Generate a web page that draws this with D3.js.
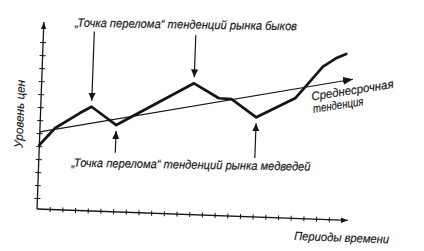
<!DOCTYPE html>
<html>
<head>
<meta charset="utf-8">
<script src="https://cdn.jsdelivr.net/npm/d3@7"></script>
<style>
  html, body { margin: 0; padding: 0; background: #fff; }
  svg { display: block; }
  text { font-family: "Liberation Sans", Arial, sans-serif; font-style: italic; fill: #151515; }
</style>
</head>
<body>
<svg id="chart" width="424" height="251"></svg>
<script>
// price path (period, price level)
const periods = [0, 1.2, 3.1, 4, 6, 7, 12, 14, 15, 17, 20, 20.9, 22.1, 23.1, 23.9];
const prices  = [5.08, 6.43, 7.65, 8.17, 6.83, 7.41, 10.26, 9.18, 9.15, 7.82, 9.39, 10.45, 11.9, 12.58, 12.94];

// medium-term trend (straight arrow)
const trendPeriods = [0, 24.5];
const trendPrices  = [6.09, 11.02];

const xTickValues = [1, 2, 3, 4, 5, 6, 7, 8, 9, 10, 11, 12, 13, 14, 15, 16, 17, 18, 19, 20, 21, 22, 23, 24];
const yTickValues = [1, 2, 3, 4, 5, 6, 7, 8, 9, 10, 11, 12, 13];

// which points of the series the call-outs point at
const bullTurnIdx = [3, 6];
const bearTurnIdx = [4, 9];

const bullLabel  = '„Точка перелома“ тенденций рынка быков';
const bearLabel  = '„Точка перелома“ тенденций рынка медведей';
const trendLabel = ['Среднесрочная', 'тенденция'];
const xLabel = 'Периоды времени';
const yLabel = 'Уровень цен';

const INK = '#151515';
const svg = d3.select('#chart');

const x = d3.scaleLinear().domain([0, 24.5]).range([0, 311]);
const y = d3.scaleLinear().domain([0, 14]).range([2, -180]);
const xMax = 24.5, yMax = 14.55;

const defs = svg.append('defs');
const addHead = (id, len, half) => defs.append('marker')
  .attr('id', id)
  .attr('markerUnits', 'userSpaceOnUse')
  .attr('viewBox', `0 ${-half} ${len} ${half * 2}`)
  .attr('refX', len).attr('refY', 0)
  .attr('markerWidth', len).attr('markerHeight', half * 2)
  .attr('orient', 'auto')
  .append('path').attr('d', `M0,${-half}L${len},0L0,${half}Z`).attr('fill', INK);
addHead('axis-head', 7, 2.6);
addHead('call-head', 8, 3.6);
addHead('trend-head', 10, 4);

// the scan is slightly tilted, so the plot sits in a rotated frame
const g = svg.append('g').attr('transform', 'translate(37,209) rotate(2.1)');

// axes
g.append('line')
  .attr('x1', 0).attr('y1', 0).attr('x2', x(xMax)).attr('y2', 0)
  .attr('stroke', INK).attr('stroke-width', 1.3)
  .attr('marker-end', 'url(#axis-head)');
g.append('line')
  .attr('x1', 0).attr('y1', 0).attr('x2', 0).attr('y2', y(yMax))
  .attr('stroke', INK).attr('stroke-width', 1.3)
  .attr('marker-end', 'url(#axis-head)');

const xAxis = g.append('g')
  .call(d3.axisBottom(x).tickValues(xTickValues).tickSize(3).tickFormat(''));
xAxis.select('.domain').remove();
xAxis.selectAll('.tick line').attr('y1', -2.5).attr('y2', 2.5).attr('stroke', INK);

const yAxis = g.append('g')
  .call(d3.axisLeft(y).tickValues(yTickValues).tickSize(3).tickFormat(''));
yAxis.select('.domain').remove();
yAxis.selectAll('.tick line').attr('x1', 3).attr('x2', -3).attr('stroke', INK);

// trend
const trendLine = d3.line().x((d, i) => x(trendPeriods[i])).y((d, i) => y(trendPrices[i]));
g.append('path')
  .attr('d', trendLine(trendPeriods))
  .attr('fill', 'none').attr('stroke', INK).attr('stroke-width', 1.2)
  .attr('marker-end', 'url(#trend-head)');

// price
const priceLine = d3.line().x((d, i) => x(periods[i])).y((d, i) => y(prices[i]));
g.append('path')
  .attr('d', priceLine(periods))
  .attr('fill', 'none').attr('stroke', INK).attr('stroke-width', 2.7)
  .attr('stroke-linejoin', 'round').attr('stroke-linecap', 'round');

// call-out arrows
const gap = 6;
g.append('g').selectAll('line').data(bullTurnIdx).join('line')
  .attr('x1', i => x(periods[i])).attr('x2', i => x(periods[i]))
  .attr('y1', -179.5).attr('y2', i => y(prices[i]) - gap)
  .attr('stroke', INK).attr('stroke-width', 1.2)
  .attr('marker-end', 'url(#call-head)');
g.append('g').selectAll('line').data(bearTurnIdx).join('line')
  .attr('x1', i => x(periods[i])).attr('x2', i => x(periods[i]))
  .attr('y1', -59).attr('y2', i => y(prices[i]) + gap)
  .attr('stroke', INK).attr('stroke-width', 1.2)
  .attr('marker-end', 'url(#call-head)');

// texts, squeezed to the widths of the scanned lettering
const label = (tf, str, len) => svg.append('text')
  .attr('transform', tf)
  .attr('font-size', 12)
  .attr('textLength', len).attr('lengthAdjust', 'spacingAndGlyphs')
  .attr('stroke', INK).attr('stroke-width', 0.15)
  .text(str);
label('translate(75,26.7) rotate(0.9)', bullLabel, 222);
label('translate(71.5,166.7) rotate(0.95)', bearLabel, 239);
label('translate(312,100.5) rotate(-8.8)', trendLabel[0], 83);
label('translate(313.5,113) rotate(-8.8)', trendLabel[1], 51);
label('translate(294,240) rotate(2)', xLabel, 95);
label('translate(22.5,148) rotate(-88)', yLabel, 68);
</script>
</body>
</html>
